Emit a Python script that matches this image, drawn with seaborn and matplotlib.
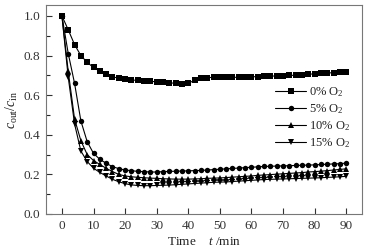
import numpy as np
import pandas as pd
import matplotlib
matplotlib.use("Agg")
import matplotlib.pyplot as plt
import seaborn as sns
from matplotlib.ticker import MultipleLocator

# sampling time, min
time = list(range(0, 91, 2))

o2_0 = [1.0, 0.93, 0.855, 0.80, 0.765, 0.74, 0.72, 0.705, 0.693, 0.685,
        0.68, 0.676, 0.675, 0.672, 0.67, 0.667, 0.665, 0.662, 0.66, 0.658,
        0.66, 0.675, 0.685, 0.688, 0.69, 0.69, 0.69, 0.69, 0.69, 0.69,
        0.692, 0.694, 0.695, 0.696, 0.697, 0.698, 0.70, 0.70, 0.702, 0.705,
        0.708, 0.71, 0.712, 0.713, 0.715, 0.716]
o2_5 = [1.0, 0.81, 0.66, 0.47, 0.365, 0.306, 0.276, 0.256, 0.239, 0.229,
        0.222, 0.219, 0.215, 0.214, 0.212, 0.212, 0.214, 0.215, 0.216, 0.217,
        0.218, 0.219, 0.22, 0.222, 0.224, 0.226, 0.228, 0.23, 0.232, 0.234,
        0.236, 0.238, 0.24, 0.241, 0.242, 0.243, 0.244, 0.245, 0.246, 0.247,
        0.248, 0.25, 0.251, 0.253, 0.254, 0.257]
o2_10 = [1.0, 0.72, 0.48, 0.37, 0.30, 0.27, 0.25, 0.231, 0.214, 0.20,
         0.192, 0.188, 0.185, 0.183, 0.181, 0.18, 0.178, 0.177, 0.176, 0.176,
         0.176, 0.177, 0.178, 0.18, 0.181, 0.182, 0.184, 0.186, 0.188, 0.19,
         0.192, 0.195, 0.197, 0.199, 0.201, 0.203, 0.205, 0.207, 0.209, 0.212,
         0.214, 0.216, 0.219, 0.222, 0.225, 0.228]
o2_15 = [1.0, 0.69, 0.455, 0.318, 0.265, 0.231, 0.21, 0.192, 0.175, 0.163,
         0.153, 0.147, 0.144, 0.143, 0.143, 0.144, 0.145, 0.146, 0.148, 0.15,
         0.152, 0.154, 0.156, 0.158, 0.16, 0.161, 0.162, 0.164, 0.166, 0.168,
         0.17, 0.172, 0.174, 0.175, 0.176, 0.177, 0.178, 0.179, 0.18, 0.181,
         0.182, 0.183, 0.185, 0.186, 0.188, 0.19]

labels = ["0% O$_2$", "5% O$_2$", "10% O$_2$", "15% O$_2$"]
series = [o2_0, o2_5, o2_10, o2_15]

df = pd.concat([pd.DataFrame({"t": time, "c": s, "group": lab})
                for lab, s in zip(labels, series)], ignore_index=True)

sns.set_style("ticks")
plt.rcParams["font.family"] = ["Liberation Serif", "DejaVu Serif"]
plt.rcParams["mathtext.fontset"] = "custom"
plt.rcParams["mathtext.rm"] = "Liberation Serif"
plt.rcParams["mathtext.it"] = "Liberation Serif:italic"

fig = plt.figure(figsize=(3.69, 2.5), dpi=100)
ax = fig.add_axes([0.125, 0.144, 0.856, 0.836])

sns.lineplot(data=df, x="t", y="c", hue="group", style="group",
             markers=["s", "o", "^", "v"], dashes=False,
             palette=["black"] * 4, linewidth=0.8, markersize=3.9,
             markeredgewidth=0, ax=ax)

ax.set_xlim(-5, 95)
ax.set_ylim(0, 1.055)
ax.xaxis.set_major_locator(MultipleLocator(10))
ax.yaxis.set_major_locator(MultipleLocator(0.2))
ax.yaxis.set_minor_locator(MultipleLocator(0.1))
ax.yaxis.set_major_formatter(matplotlib.ticker.FormatStrFormatter("%.1f"))
ax.tick_params(direction="in", length=4, width=0.8, labelsize=9.5,
               colors="#333333", pad=4)
ax.tick_params(which="minor", direction="in", length=3, width=0.8)
for sp in ax.spines.values():
    sp.set_color("#777777")
    sp.set_linewidth(0.8)

ax.set_xlabel("Time    $t$ /min", fontsize=9.5, labelpad=3, color="#222222")
ax.set_ylabel("$c_{\\mathrm{out}}/c_{\\mathrm{in}}$", fontsize=10, labelpad=3,
              color="#222222")

ax.legend(loc="upper left", bbox_to_anchor=(0.705, 0.645), frameon=False,
          fontsize=9, handlelength=2.5, handletextpad=0.25, labelspacing=0.25,
          borderpad=0, labelcolor="#222222")

fig.savefig("out.png", dpi=100)
